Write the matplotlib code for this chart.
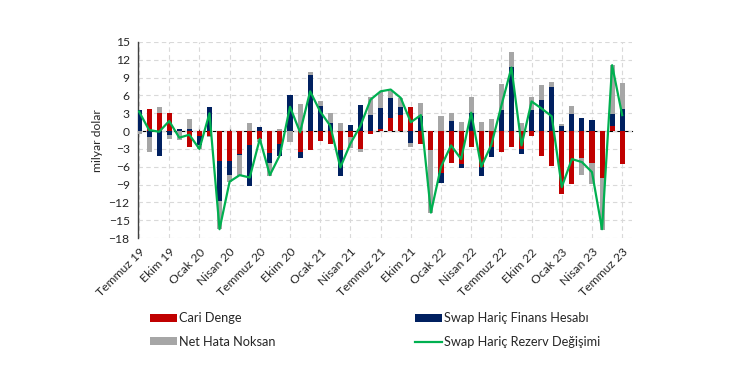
import matplotlib.pyplot as plt
import numpy as np

plt.rcParams['font.family'] = ['Lato', 'DejaVu Sans']

# Temmuz 2019 - Temmuz 2023, aylik, milyar dolar
tick_labels = ["Temmuz 19", "Ekim 19", "Ocak 20", "Nisan 20", "Temmuz 20", "Ekim 20",
               "Ocak 21", "Nisan 21", "Temmuz 21", "Ekim 21", "Ocak 22", "Nisan 22",
               "Temmuz 22", "Ekim 22", "Ocak 23", "Nisan 23", "Temmuz 23"]

cari_denge = [0.0, 3.7, 3.1, 3.1, 0.1, -2.6, -0.9, -0.8, -5.1, -5.1, -3.8, -2.3,
              -1.3, -3.7, -2.1, 0.1, -3.5, -3.2, -1.6, -2.2, -3.2, -1.0, -3.0, -0.5,
              0.4, 2.2, 2.8, 4.1, -2.1, -3.2, -7.0, -5.4, -5.5, -2.6, -6.0, -2.7,
              -3.5, -2.7, -3.0, -0.8, -4.1, -5.9, -10.6, -8.9, -4.6, -5.4, -7.9, 0.8,
              -5.5]
finans = [3.6, -1.0, -4.1, -0.6, 0.3, 0.4, -1.4, 4.1, -6.6, -2.3, -0.2, -7.0,
          0.7, -1.6, -2.0, 5.9, -1.1, 9.5, 4.2, 1.4, -4.4, 1.1, 4.4, 2.8,
          3.5, 3.3, 1.2, -2.0, 2.6, 0.0, -1.7, 1.7, -0.7, 3.1, -1.6, -1.6,
          3.6, 10.8, -0.8, 3.5, 5.3, 7.4, 0.8, 2.9, 2.2, 1.9, 0.0, 2.1,
          3.7]
net_hata = [-0.4, -2.5, 0.9, -0.7, -1.5, 1.6, -0.7, -0.2, -4.8, -1.1, -3.5, 1.4,
            -0.5, -2.2, 0.3, -1.8, 4.5, 0.5, 0.8, 1.7, 1.4, -1.8, -0.5, 2.9,
            2.7, 1.3, 1.6, -0.6, 2.2, -10.5, 2.6, 1.3, 1.5, 2.6, 1.6, 2.1,
            4.3, 2.6, 1.4, 2.2, 2.4, 0.8, 0.4, 1.4, -2.8, -3.5, -8.8, 8.2,
            4.4]
rezerv = [3.3, 0.2, -0.1, 1.7, -1.1, -0.6, -3.0, 3.0, -16.5, -8.5, -7.4, -7.8,
          -1.3, -7.4, -4.0, 4.1, -0.2, 6.7, 3.3, 0.9, -6.1, -2.1, 0.9, 5.3,
          6.7, 7.0, 5.6, 1.5, 2.7, -13.7, -6.0, -2.4, -4.7, 3.1, -6.0, -2.3,
          4.3, 10.7, -2.4, 5.0, 3.8, 2.5, -9.4, -4.7, -5.2, -6.9, -16.5, 11.1,
          2.7]

RED = "#C00000"
NAVY = "#002060"
GRAY = "#A6A6A6"
GREEN = "#00B050"
TXT = "#262626"

x = np.arange(len(cari_denge))
series = [(cari_denge, RED, "Cari Denge"),
          (finans, NAVY, "Swap Hariç Finans Hesabı"),
          (net_hata, GRAY, "Net Hata Noksan")]

fig = plt.figure(figsize=(7.5, 3.75), dpi=100)
ax = fig.add_axes([0.184, 0.365, 0.659, 0.523])

# excel tarzi yigma: pozitifler yukari, negatifler asagi
pos_base = np.zeros(len(x))
neg_base = np.zeros(len(x))
bars = []
for vals, col, lab in series:
    v = np.array(vals)
    base = np.where(v >= 0, pos_base, neg_base)
    b = ax.bar(x, v, bottom=base, width=0.5, color=col, label=lab, zorder=3)
    bars.append(b)
    pos_base = pos_base + np.clip(v, 0, None)
    neg_base = neg_base + np.clip(v, None, 0)

line, = ax.plot(x, rezerv, color=GREEN, lw=1.6, zorder=4,
                label="Swap Hariç Rezerv Değişimi")

ax.set_ylim(-18, 15)
ax.set_yticks(np.arange(-18, 16, 3))
ax.set_xlim(-0.1, 49.0)
tick_pos = x[::3]
ax.set_xticks(tick_pos)
ax.set_xticklabels(tick_labels, rotation=45, ha="right", rotation_mode="anchor")
ax.tick_params(axis="x", length=0, pad=6, labelsize=8.7, labelcolor=TXT)
ax.tick_params(axis="y", length=0, pad=6, labelsize=8.7, labelcolor=TXT)

ax.grid(True, color="#D9D9D9", ls=(0, (4, 3)), lw=0.8, zorder=0)
for s in ["top", "right", "bottom"]:
    ax.spines[s].set_visible(False)
ax.spines["left"].set_color("#404040")
ax.spines["left"].set_linewidth(1.0)

# sifir ekseni ve kucuk tik isaretleri
zero_ax = ax.secondary_xaxis(18 / 33)
zero_ax.set_xticks(tick_pos)
zero_ax.set_xticklabels([])
zero_ax.tick_params(axis="x", direction="out", length=3, color="#404040", width=0.8)
zero_ax.spines["bottom"].set_color("#404040")
zero_ax.spines["bottom"].set_linewidth(1.0)
zero_ax.spines["bottom"].set_zorder(5)

ax.set_ylabel("milyar dolar", fontsize=8.7, labelpad=4, color=TXT)

leg_kw = dict(frameon=False, fontsize=9.2, handlelength=2.1, handleheight=0.6,
              handletextpad=0.17, labelspacing=0.9, borderpad=0, borderaxespad=0,
              loc="upper left", labelcolor=TXT)
fig.legend([bars[0], bars[2]], ["Cari Denge", "Net Hata Noksan"],
           bbox_to_anchor=(0.2, 0.167), **leg_kw)
fig.legend([bars[1], line], ["Swap Hariç Finans Hesabı", "Swap Hariç Rezerv Değişimi"],
           bbox_to_anchor=(0.553, 0.167), **leg_kw)

fig.savefig("out.png", dpi=100)
